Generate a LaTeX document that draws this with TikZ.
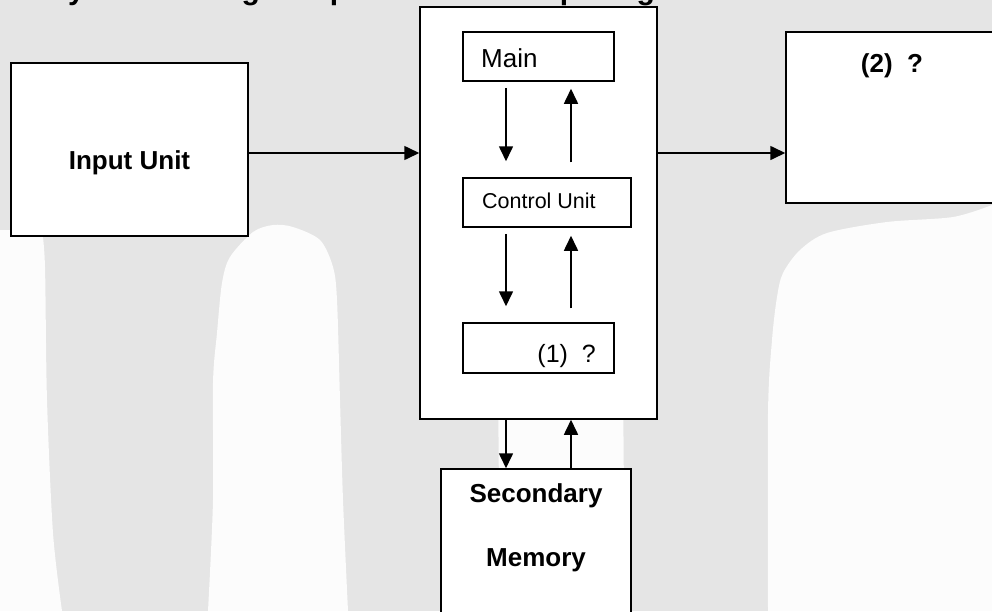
\documentclass[tikz,border=0pt]{standalone}
\usepackage{fontspec}
\setmainfont{Liberation Sans}
\usetikzlibrary{arrows.meta,calc}
\definecolor{bggrey}{HTML}{E5E5E5}
\definecolor{wmark}{HTML}{FCFCFC}
\begin{document}
\begin{tikzpicture}[x=1pt,y=-1pt,
  box/.style={draw=black,line width=1.5pt,fill=white,inner sep=0pt},
  rect/.style args={#1/#2}{minimum width=#1pt,minimum height=#2pt},
  arr/.style={line width=1.6pt,-{Triangle[length=15pt,width=14pt]}},
  bigbold/.style={font=\fontsize{26}{30}\selectfont\bfseries,inner sep=0pt,anchor=base},
  bigreg/.style={font=\fontsize{26}{30}\selectfont,inner sep=0pt,anchor=base west},
  smallreg/.style={font=\fontsize{21.5}{26}\selectfont,inner sep=0pt,anchor=base west},
  qreg/.style={font=\fontsize{25}{29}\selectfont,inner sep=0pt,anchor=base east}]
\useasboundingbox (0,0) rectangle (992,611);
\clip (0,0) rectangle (992,611);
% background and watermark
\fill[bggrey] (0,0) rectangle (992,611);
\fill[wmark] plot[smooth] coordinates {(42,230) (45,267) (47,400) (53,533) (62,611)} -- (0,611) -- (0,230) -- cycle;
\fill[wmark] plot[smooth] coordinates {(208,611) (213,500) (213,383) (217,333) (222,283) (230,257) (253,232) (273,225) (293,227) (320,240) (333,267) (337,300) (340,400) (343,500) (348,611)} -- cycle;
\fill[wmark] (498,380) -- (623,380) -- (625,611) -- (500,611) -- cycle;
\fill[wmark] plot[smooth] coordinates {(768,611) (768,413) (772,340) (777,297) (783,273) (800,250) (827,233) (887,222) (953,217) (992,205)} -- (1000,205) -- (1000,611) -- cycle;
% cut-off heading (only its lowest strip lies inside the picture, as in the reference)
\node[font=\fontsize{30}{34}\selectfont\bfseries,inner sep=0pt,anchor=base west] (heading) at (-22,-1) {Identify the missing components in the space given below};
% boxes
\node[box,rect=237/173] (input) at (129.5,149.5) {};
\node[box,rect=237/412] (cpu) at (538.5,213) {};
\node[box,rect=151/49] (main) at (538.5,56.5) {};
\node[box,rect=168/49] (ctrl) at (547,202.5) {};
\node[box,rect=151/50] (q1) at (538.5,348) {};
\node[box,rect=214/171] (out) at (893,117.5) {};
\node[box,rect=190/156] (sec) at (536,547) {};
% texts
\node[bigbold] (inputT) at (129.5,169) {Input Unit};
\node[bigreg] (mainT) at (481,67) {Main};
\node[smallreg] (ctrlT) at (482,208) {Control Unit};
\node[qreg] (q1T) at (596,362) {(1)\ \ ?};
\node[bigbold] (outT) at (892,72) {(2)\ \ ?};
\node[bigbold] (secT1) at (536,502) {Secondary};
\node[bigbold] (secT2) at (536,566) {Memory};
% connectors
\coordinate (lvl) at (0,153);
\coordinate (xd) at (506,0);
\coordinate (xu) at (571,0);
\draw[arr] (input.east |- lvl) -- (cpu.west |- lvl);
\draw[arr] (cpu.east |- lvl) -- (out.west |- lvl);
\draw[arr] ($(main.south -| xd)+(0,6)$) -- ($(ctrl.north -| xd)+(0,-16)$);
\draw[arr] ($(ctrl.north -| xu)+(0,-15)$) -- ($(main.south -| xu)+(0,7)$);
\draw[arr] ($(ctrl.south -| xd)+(0,6)$) -- ($(q1.north -| xd)+(0,-16)$);
\draw[arr] ($(q1.north -| xu)+(0,-14)$) -- ($(ctrl.south -| xu)+(0,8)$);
\draw[arr] (cpu.south -| xd) -- (sec.north -| xd);
\draw[arr] (sec.north -| xu) -- (cpu.south -| xu);
\end{tikzpicture}
\end{document}
